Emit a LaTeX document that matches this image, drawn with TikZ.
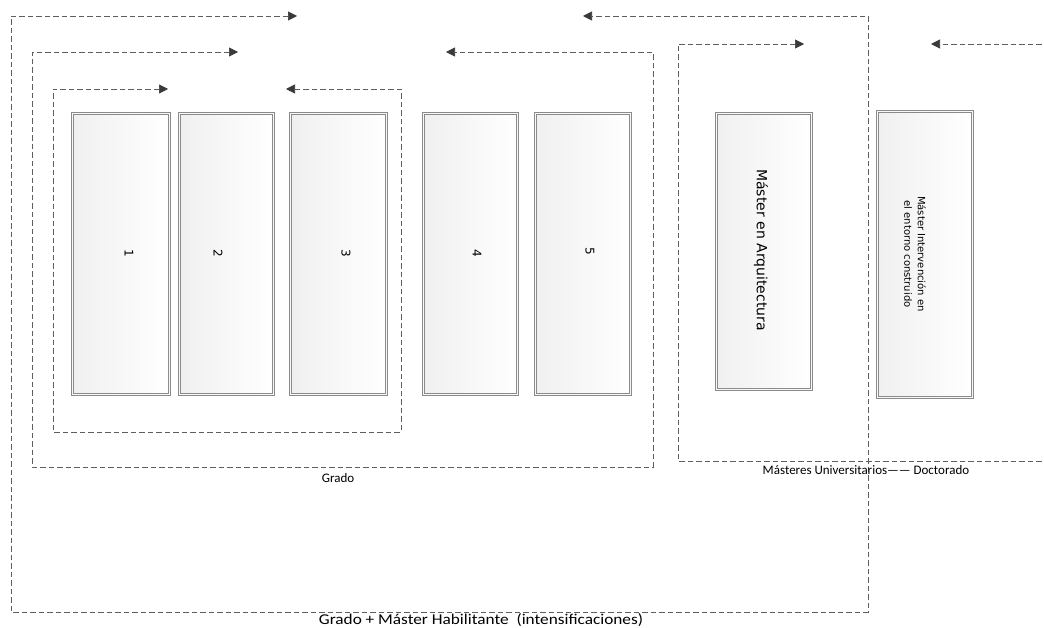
\documentclass[tikz,border=0pt]{standalone}
\usepackage{fontspec}
\setmainfont{Carlito}
\newfontfamily\boxfont{DejaVu Sans}
\usetikzlibrary{arrows.meta,shadows}
\definecolor{dashc}{HTML}{5E5E5E}
\definecolor{tipc}{HTML}{3A3A3A}
\definecolor{boxline}{HTML}{8A8A8A}
\begin{document}
\begin{tikzpicture}[x=1pt,y=-1pt,
  >={Triangle[length=9pt,width=9pt,color=tipc]},
  loopline/.style={draw=dashc, line width=0.7pt, dash pattern=on 5.5pt off 3pt},
  box/.style={draw=boxline, double=white!95!gray, double distance=1.6pt, line width=0.7pt,
    left color=gray!12, right color=white, inner sep=0pt,
    drop shadow={shadow xshift=1.5pt,shadow yshift=-1.5pt,fill=gray!40,opacity=0.6}},
  numtxt/.style={font=\boxfont\fontsize{12}{14}\selectfont, rotate=-90, inner sep=0pt},
  bigtxt/.style={font=\boxfont\fontsize{14}{16}\selectfont, rotate=-90, inner sep=0pt},
  smalltxt/.style={font=\boxfont\fontsize{10}{13.5}\selectfont, rotate=-90, inner sep=0pt, align=center},
  lbl/.style={font=\fontsize{13}{15}\selectfont, inner sep=0pt},
  biglbl/.style={font=\fontsize{15}{18}\selectfont, inner sep=0pt, anchor=base, xscale=1.15}
]
\clip (0,0) rectangle (1044,628);
\fill[white] (0,0) rectangle (1044,628);

% boxes
\node[box, minimum width=96.8pt, minimum height=280.8pt] (b1) at (121,254) {};
\node[box, minimum width=93.8pt, minimum height=280.8pt] (b2) at (226.5,254) {};
\node[box, minimum width=95.8pt, minimum height=280.8pt] (b3) at (338.5,254) {};
\node[box, minimum width=93.8pt, minimum height=280.8pt] (b4) at (470.5,254) {};
\node[box, minimum width=94.8pt, minimum height=280.8pt] (b5) at (583,254) {};
\node[box, minimum width=94.8pt, minimum height=275.8pt] (ma) at (764,251.5) {};
\node[box, minimum width=94.8pt, minimum height=285.8pt] (mi) at (925,254.5) {};

\node[numtxt] (t1) at (129,253) {1};
\node[numtxt] (t2) at (218,253) {2};
\node[numtxt] (t3) at (346,253) {3};
\node[numtxt] (t4) at (477,253) {4};
\node[numtxt] (t5) at (590,251) {5};
\node[bigtxt] (tma) at (761,250) {Máster en Arquitectura};
\node[smalltxt] (tmi) at (915,254) {Máster Intervención en\\el entorno construido};

% loops
\coordinate (oA) at (297,16);
\coordinate (oB) at (583,16);
\draw[loopline,<->] (oA) -- (11,16) -- (11,612) -- (868,612) -- (868,16) -- (oB);
\coordinate (gA) at (238,52);
\coordinate (gB) at (446,52);
\draw[loopline,<->] (gA) -- (32,52) -- (32,467) -- (653,467) -- (653,52) -- (gB);
\coordinate (iA) at (168,89);
\coordinate (iB) at (286,89);
\draw[loopline,<->] (iA) -- (53,89) -- (53,432) -- (401,432) -- (401,89) -- (iB);
\coordinate (mA) at (804,44);
\coordinate (mE) at (1050,461);
\draw[loopline,<-] (mA) -- (678,44) -- (678,461) -- (mE);
\coordinate (dS) at (1050,44);
\coordinate (dA) at (931,44);
\draw[loopline,->] (dS) -- (dA);

% labels
\node[lbl] (lg) at (338,478) {Grado};
\node[lbl] (lm) at (866,470) {Másteres Universitarios—— Doctorado};
\node[biglbl] (lh) at (481,624) {Grado + Máster Habilitante\ \ (intensificaciones)};
\end{tikzpicture}
\end{document}
